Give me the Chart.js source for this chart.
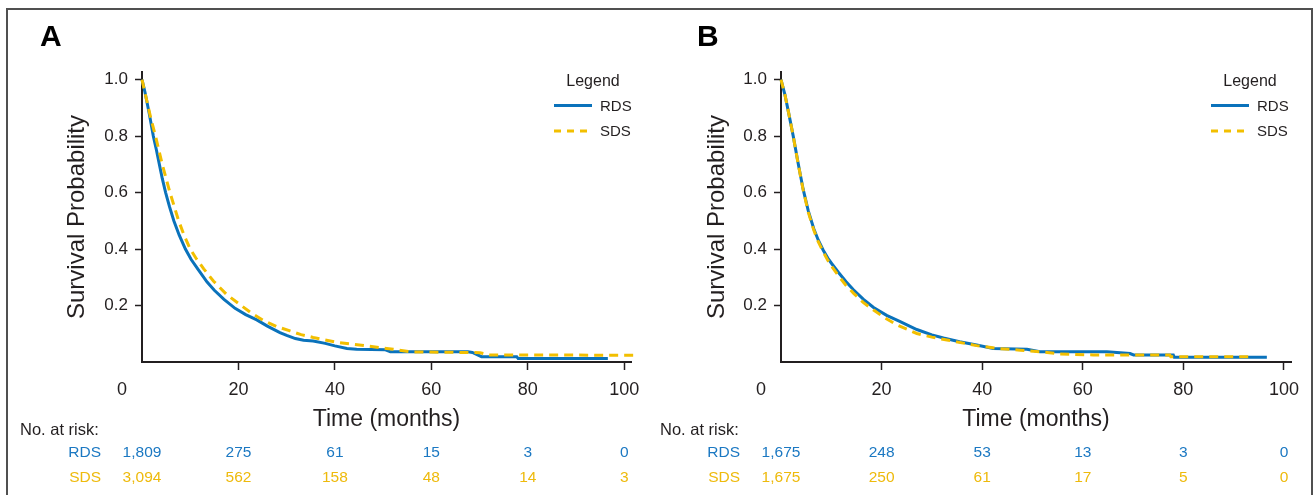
<!DOCTYPE html>
<html>
<head>
<meta charset="utf-8">
<script src="https://cdn.jsdelivr.net/npm/chart.js@4.4.1/dist/chart.umd.min.js"></script>
<style>
html,body{margin:0;padding:0;background:#fff;}
#wrap{position:relative;width:1314px;height:495px;overflow:hidden;background:#fff;}
#frame{position:absolute;left:6px;top:8px;width:1307px;height:600px;border:2px solid #505050;box-sizing:border-box;}
.pane{position:absolute;top:0;width:657px;height:495px;}
canvas{display:block;}
</style>
</head>
<body>
<div id="wrap">
  <div id="frame"></div>
  <div class="pane" style="left:0"><canvas id="cA" width="657" height="495"></canvas></div>
  <div class="pane" style="left:657px"><canvas id="cB" width="657" height="495"></canvas></div>
</div>
<script>
// ---------- data ----------
const xTicks = [0, 20, 40, 60, 80, 100];
const yTicks = [0.2, 0.4, 0.6, 0.8, 1.0];
const riskTimes = [0, 20, 40, 60, 80, 100];
const seriesNames = ['RDS', 'SDS'];

// Panel A
const aRdsTime = [0, 0.6, 1.5, 2.35, 3.0, 3.6, 4.2, 4.9, 5.7, 6.6, 7.7, 9.0, 10.2, 11.7, 13.5, 15, 17, 19.3, 21.5, 23.8, 26, 28.6, 30, 31.8, 33.5, 35.5, 38, 40, 42.5, 44.5, 50.5, 51.5, 67.6, 68.5, 70.4, 77.7, 78, 96.6];
const aRdsSurv = [1.0, 0.957, 0.88, 0.8, 0.75, 0.7, 0.65, 0.6, 0.55, 0.5, 0.45, 0.4, 0.363, 0.326, 0.283, 0.254, 0.222, 0.19, 0.168, 0.149, 0.127, 0.104, 0.094, 0.083, 0.077, 0.074, 0.066, 0.057, 0.048, 0.045, 0.043, 0.036, 0.036, 0.034, 0.019, 0.019, 0.012, 0.012];
const aSdsTime = [0, 1.0, 1.8, 2.8, 3.5, 4.2, 5.0, 5.8, 6.7, 7.6, 8.7, 10.0, 11.3, 12.8, 14.8, 17.5, 20.4, 22.8, 25.2, 28, 30.7, 33, 35.5, 38, 40.4, 43.1, 46.6, 49.5, 52.1, 55.6, 70.1, 72.1, 102.9];
const aSdsSurv = [1.0, 0.925, 0.865, 0.8, 0.75, 0.7, 0.65, 0.6, 0.55, 0.5, 0.45, 0.4, 0.365, 0.33, 0.287, 0.24, 0.202, 0.172, 0.147, 0.125, 0.11, 0.097, 0.087, 0.078, 0.07, 0.064, 0.057, 0.05, 0.045, 0.036, 0.033, 0.025, 0.024];
const aRiskRds = ['1,809', '275', '61', '15', '3', '0'];
const aRiskSds = ['3,094', '562', '158', '48', '14', '3'];

// Panel B
const bRdsTime = [0, 0.8, 1.6, 2.43, 3.4, 4.4, 5.4, 6.5, 7.4, 8.4, 9.3, 10.1, 11.4, 12.9, 14.4, 16.4, 18.4, 21, 23.7, 27, 30, 32.3, 35.5, 38.9, 42.2, 48.9, 51.5, 64.8, 69.4, 70.1, 78, 78.2, 96.6];
const bRdsSurv = [1.0, 0.945, 0.875, 0.8, 0.705, 0.612, 0.537, 0.473, 0.432, 0.396, 0.368, 0.348, 0.318, 0.285, 0.256, 0.222, 0.193, 0.165, 0.143, 0.115, 0.096, 0.085, 0.072, 0.06, 0.048, 0.045, 0.036, 0.036, 0.03, 0.025, 0.025, 0.0165, 0.0165];
const bSdsTime = [0, 0.8, 1.6, 2.43, 3.4, 4.4, 5.4, 6.5, 7.4, 8.4, 9.3, 10.1, 11.4, 12.9, 14.4, 16.4, 18.4, 20.5, 23.1, 27, 30, 33, 38.9, 43.6, 47.6, 52.9, 55.5, 62.1, 77.3, 77.5, 93.9];
const bSdsSurv = [1.0, 0.945, 0.875, 0.8, 0.703, 0.61, 0.532, 0.468, 0.426, 0.39, 0.36, 0.338, 0.306, 0.272, 0.244, 0.21, 0.184, 0.158, 0.131, 0.101, 0.088, 0.078, 0.058, 0.047, 0.042, 0.034, 0.028, 0.025, 0.025, 0.019, 0.019];
const bRiskRds = ['1,675', '248', '53', '13', '3', '0'];
const bRiskSds = ['1,675', '250', '61', '17', '5', '0'];

// ---------- styling ----------
const FONT = "'Liberation Sans', Arial, Helvetica, sans-serif";
const TXT = '#231f20';
const BLUE = '#0a72bb';
const YELLOW = '#f2bf00';
const BLUE_T = '#1b78c2';
const YELLOW_T = '#eeba0c';

function pts(t, s) { return t.map((v, i) => ({ x: v, y: s[i] })); }

function extrasPlugin(p) {
  return {
    id: 'kmExtras',
    afterDraw(chart) {
      const ctx = chart.ctx;
      const xs = chart.scales.x;
      ctx.save();
      // panel letter
      ctx.font = 'bold 30px ' + FONT;
      ctx.fillStyle = '#000';
      ctx.textAlign = 'left';
      ctx.textBaseline = 'alphabetic';
      ctx.fillText(p.letter, 40, 46);
      // x tick labels
      ctx.font = '18px ' + FONT;
      ctx.fillStyle = TXT;
      ctx.textAlign = 'center';
      xTicks.forEach(v => {
        ctx.fillText(String(v), xs.getPixelForValue(v) + (v === 0 ? -20 : 0), 394.5);
      });
      // legend
      ctx.font = '16px ' + FONT;
      ctx.fillText('Legend', 593, 85.5);
      ctx.lineWidth = 3;
      ctx.strokeStyle = BLUE;
      ctx.setLineDash([]);
      ctx.beginPath(); ctx.moveTo(554, 105.5); ctx.lineTo(592, 105.5); ctx.stroke();
      ctx.strokeStyle = YELLOW;
      ctx.setLineDash([7, 6]);
      ctx.beginPath(); ctx.moveTo(554, 131); ctx.lineTo(592, 131); ctx.stroke();
      ctx.setLineDash([]);
      ctx.font = '15px ' + FONT;
      ctx.textAlign = 'left';
      ctx.fillText(seriesNames[0], 600, 110.7);
      ctx.fillText(seriesNames[1], 600, 136);
      // risk table
      ctx.font = '16.5px ' + FONT;
      ctx.fillText('No. at risk:', p.riskLeft, 435);
      ctx.font = '15.5px ' + FONT;
      ctx.textAlign = 'right';
      ctx.fillStyle = BLUE_T;
      ctx.fillText(seriesNames[0], p.riskLabelRight, 457);
      ctx.fillStyle = YELLOW_T;
      ctx.fillText(seriesNames[1], p.riskLabelRight, 482);
      ctx.textAlign = 'center';
      riskTimes.forEach((t, i) => {
        const px = xs.getPixelForValue(t);
        ctx.fillStyle = BLUE_T;
        ctx.fillText(p.riskRds[i], px, 457);
        ctx.fillStyle = YELLOW_T;
        ctx.fillText(p.riskSds[i], px, 482);
      });
      ctx.restore();
    }
  };
}

function buildPanel(id, p) {
  const tickColor = c => (c.tick && c.tick.value === 0 && c.scale.axis === 'x') ? 'rgba(0,0,0,0)' : TXT;
  return new Chart(document.getElementById(id), {
    type: 'line',
    data: {
      datasets: [
        { label: seriesNames[0], data: pts(p.rdsT, p.rdsS), borderColor: BLUE, borderWidth: 3,
          pointRadius: 0, tension: 0, fill: false, clip: false, order: 1 },
        { label: seriesNames[1], data: pts(p.sdsT, p.sdsS), borderColor: YELLOW, borderWidth: 3,
          borderDash: [9, 6], pointRadius: 0, tension: 0, fill: false, clip: false, order: 0 }
      ]
    },
    options: {
      responsive: false,
      animation: false,
      devicePixelRatio: 1,
      events: [],
      layout: { padding: { left: 0, right: p.padRight, top: 72, bottom: 62 } },
      plugins: { legend: { display: false }, tooltip: { enabled: false } },
      scales: {
        x: {
          type: 'linear', min: 0, max: 101.4,
          afterBuildTicks: s => { s.ticks = xTicks.map(v => ({ value: v })); },
          afterFit: s => { s.height = 71; },
          grid: { drawOnChartArea: false, drawTicks: true, tickLength: 8, tickWidth: 1.5, tickColor: tickColor },
          border: { display: true, color: TXT, width: 2 },
          ticks: { display: false },
          title: { display: true, text: 'Time (months)', color: TXT, font: { family: FONT, size: 23 }, padding: { top: 0, bottom: 0 } }
        },
        y: {
          type: 'linear', min: 0, max: 1.027,
          afterBuildTicks: s => { s.ticks = yTicks.map(v => ({ value: v })); },
          afterFit: s => { s.width = p.yW; },
          grid: { drawOnChartArea: false, drawTicks: true, tickLength: 7, tickWidth: 1.5, tickColor: TXT },
          border: { display: true, color: TXT, width: 2 },
          ticks: { color: TXT, font: { family: FONT, size: 17 }, padding: 7, callback: v => Number(v).toFixed(1) },
          title: { display: true, text: 'Survival Probability', color: TXT, font: { family: FONT, size: 24 }, padding: { top: p.yTitlePad, bottom: 0 } }
        }
      }
    },
    plugins: [extrasPlugin(p)]
  });
}

buildPanel('cA', {
  letter: 'A', yW: 142, padRight: 26, yTitlePad: 62.5,
  rdsT: aRdsTime, rdsS: aRdsSurv, sdsT: aSdsTime, sdsS: aSdsSurv,
  riskRds: aRiskRds, riskSds: aRiskSds, riskLeft: 20, riskLabelRight: 101
});
buildPanel('cB', {
  letter: 'B', yW: 124, padRight: 23, yTitlePad: 46,
  rdsT: bRdsTime, rdsS: bRdsSurv, sdsT: bSdsTime, sdsS: bSdsSurv,
  riskRds: bRiskRds, riskSds: bRiskSds, riskLeft: 3, riskLabelRight: 83
});
</script>
</body>
</html>
